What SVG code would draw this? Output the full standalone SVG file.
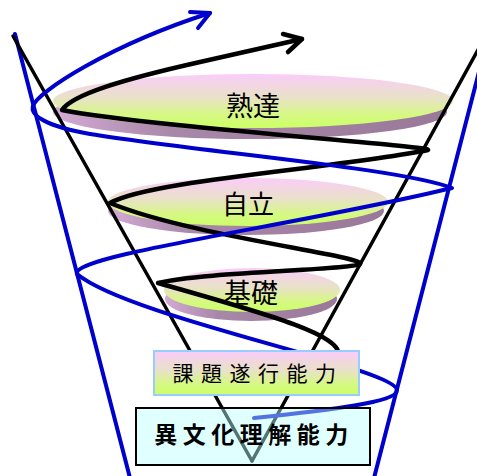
<svg xmlns="http://www.w3.org/2000/svg" width="477" height="476" viewBox="0 0 477 476">
  <defs>
    <linearGradient id="faceGrad" x1="0" y1="0" x2="0" y2="1">
      <stop offset="0" stop-color="#FACCFA"/>
      <stop offset="0.45" stop-color="#E8E2C6"/>
      <stop offset="0.75" stop-color="#D6F884"/>
      <stop offset="1" stop-color="#CCFF66"/>
    </linearGradient>
    <linearGradient id="sideGrad" x1="0" y1="0" x2="1" y2="0">
      <stop offset="0" stop-color="#D4AAD4"/>
      <stop offset="0.3" stop-color="#A888A8"/>
      <stop offset="1" stop-color="#9A789A"/>
    </linearGradient>
    <style>
      .face { fill: url(#faceGrad); }
      .side { fill: url(#sideGrad); }
      .blk { fill: none; stroke: #000000; stroke-width: 4.5; stroke-linecap: round; stroke-linejoin: round; }
      .vln { fill: none; stroke: #000000; stroke-width: 3.5; stroke-linecap: round; }
      .blu { fill: none; stroke: #0000CC; stroke-width: 4; stroke-linecap: round; stroke-linejoin: round; }
      .lbl { font-family: "Noto Sans CJK JP", "Noto Sans CJK SC", sans-serif; fill: #000000; text-anchor: middle; }
    </style>
  </defs>

  <g id="cone">
    <line class="blu" x1="15" y1="34" x2="130" y2="478"/>
    <line class="blu" x1="481" y1="64" x2="374" y2="478"/>
  </g>

  <g id="disc-jukutatsu">
    <ellipse class="side" cx="250" cy="112" rx="197" ry="27"/>
    <ellipse class="face" cx="253" cy="101" rx="200" ry="27"/>
  </g>
  <g id="disc-jiritsu">
    <ellipse class="side" cx="246" cy="211" rx="138" ry="24"/>
    <ellipse class="face" cx="248" cy="202" rx="140" ry="24"/>
  </g>
  <g id="disc-kiso">
    <ellipse class="side" cx="251" cy="299" rx="86" ry="22"/>
    <ellipse class="face" cx="252" cy="290" rx="88" ry="22"/>
  </g>

  <g id="connectors">
    <line class="vln" x1="13" y1="36" x2="252" y2="461"/>
    <line class="vln" x1="479" y1="48" x2="252" y2="461"/>
    <path class="blk" d="M 338 356 C 345 335, 260 312, 158 283 C 200 272, 352 270, 360 264 C 366 256, 190 236, 110 203 C 150 180, 340 168, 428 150 C 434 146, 150 127, 62 110 C 72 95, 120 80, 200 62 L 302 39"/>
    <polyline class="blk" points="283,34 302,39 288,52"/>
    <path class="blu" d="M 254 418 C 330 410, 398 402, 397 390 C 395 368, 130 318, 77 274 C 70 255, 300 225, 452 188 C 400 168, 200 152, 90 134 C 45 126, 30 115, 33 106 C 37 92, 110 45, 210 13"/>
    <polyline class="blu" points="190,12 210,13 198,28"/>
  </g>

  <g id="label-jukutatsu"><text class="lbl" x="253" y="116" font-size="27">熟達</text></g>
  <g id="label-jiritsu"><text class="lbl" x="248" y="214" font-size="26">自立</text></g>
  <g id="label-kiso"><text class="lbl" x="251" y="303" font-size="27">基礎</text></g>

  <g id="box-kadai">
    <rect x="154" y="351" width="205" height="44" fill="url(#faceGrad)" stroke="#99CCFF" stroke-width="2"/>
    <text class="lbl" x="258" y="381" font-size="21" letter-spacing="7.5">課題遂行能力</text>
  </g>

  <g id="box-ibunka">
    <rect x="136" y="408" width="234" height="57" fill="#BBFFFF" fill-opacity="0.45" stroke="#000000" stroke-width="2"/>
    <text class="lbl" x="254" y="443" font-size="23" font-weight="bold" letter-spacing="5.5">異文化理解能力</text>
  </g>
</svg>
